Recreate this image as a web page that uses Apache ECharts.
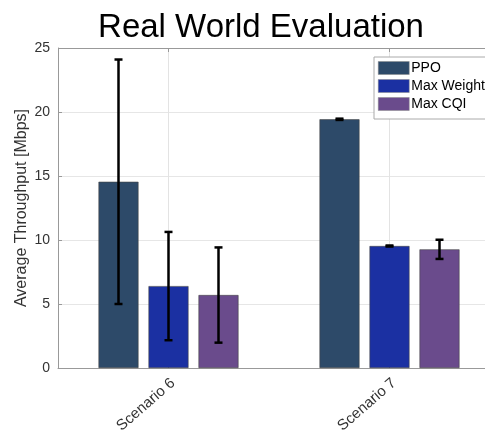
<!DOCTYPE html>
<html><head><meta charset="utf-8">
<script src="https://cdn.jsdelivr.net/npm/echarts@6/dist/echarts.min.js"></script>
<style>html,body{margin:0;padding:0;background:#fff;overflow:hidden}#c{width:485px;height:433px}</style>
</head><body><div id="c"></div>
<script>
const categories = ['Scenario 6', 'Scenario 7'];
const seriesNames = ['PPO', 'Max Weight', 'Max CQI'];
const ppo = [14.55, 19.43];
const maxWeight = [6.4, 9.53];
const maxCqi = [5.7, 9.27];
const ppoErr = [9.55, 0.05];
const maxWeightErr = [4.23, 0.04];
const maxCqiErr = [3.72, 0.75];
const yTicks = [0, 5, 10, 15, 20, 25];

const colors = ['#2d4a69', '#1b30a2', '#6a4b8c'];
const values = [ppo, maxWeight, maxCqi];
const errs = [ppoErr, maxWeightErr, maxCqiErr];
const BAR_W = 40, GAP = 10;
const FONT = 'Liberation Sans, Arial, sans-serif';

const chart = echarts.init(document.getElementById('c'));
const series = [];
// vertical grid lines at category centres, plus top box edge with ticks
series.push({
  name: 'vgrid', type: 'custom', z: 0, silent: true,
  data: categories.map((c, i) => [i]),
  encode: { x: 0 },
  renderItem: function (params, api) {
    const p = api.coord([api.value(0), 0]);
    const top = api.coord([api.value(0), yTicks[yTicks.length - 1]]);
    const cs = params.coordSys;
    const children = [
      { type: 'line', shape: { x1: p[0], y1: top[1], x2: p[0], y2: p[1] },
        style: { stroke: '#e3e3e3', lineWidth: 1 } },
      { type: 'line', shape: { x1: p[0], y1: top[1], x2: p[0], y2: top[1] + 4 },
        style: { stroke: '#999', lineWidth: 1 }, z2: 10 }
    ];
    if (params.dataIndex === 0) {
      children.push({ type: 'line', shape: { x1: cs.x, y1: top[1] + 0.5, x2: cs.x + cs.width, y2: top[1] + 0.5 },
        style: { stroke: '#999', lineWidth: 1 }, z2: 10 });
    }
    return { type: 'group', children: children };
  }
});
values.forEach((vals, si) => {
  series.push({
    name: seriesNames[si], type: 'bar', data: vals, barWidth: BAR_W, barGap: '25%',
    itemStyle: { color: colors[si], borderColor: '#444', borderWidth: 0.6 },
    z: 2
  });
});
values.forEach((vals, si) => {
  series.push({
    name: seriesNames[si] + ' err', type: 'custom', z: 5,
    data: vals.map((v, i) => [i, v - errs[si][i], v + errs[si][i]]),
    encode: { x: 0, y: [1, 2] },
    renderItem: function (params, api) {
      const i = api.value(0);
      const lo = api.coord([i, api.value(1)]);
      const hi = api.coord([i, api.value(2)]);
      const x = lo[0] + (si - 1) * (BAR_W + GAP);
      const cap = 4;
      const st = { stroke: '#000', lineWidth: 2.5 };
      return { type: 'group', children: [
        { type: 'line', shape: { x1: x, y1: hi[1], x2: x, y2: lo[1] }, style: st },
        { type: 'line', shape: { x1: x - cap, y1: hi[1], x2: x + cap, y2: hi[1] }, style: st },
        { type: 'line', shape: { x1: x - cap, y1: lo[1], x2: x + cap, y2: lo[1] }, style: st }
      ]};
    }
  });
});

chart.setOption({
  animation: false,
  backgroundColor: '#fff',
  title: { text: 'Real World Evaluation', left: 256, textAlign: 'center', top: 6,
    textStyle: { fontFamily: FONT, fontSize: 33, fontWeight: 'normal', color: '#000' } },
  legend: {
    orient: 'vertical', left: 374, top: 57, data: seriesNames,
    itemWidth: 31, itemHeight: 13, itemGap: 4, padding: [4, 4, 8, 4],
    backgroundColor: '#fff', borderColor: '#aaa', borderWidth: 1, icon: 'rect',
    itemStyle: { borderWidth: 0.5, borderColor: '#888' },
    textStyle: { fontFamily: FONT, fontSize: 14, color: '#000', padding: [0, 0, 0, -3] }
  },
  grid: { left: 58, top: 48, width: 442, height: 320, outerBoundsMode: 'none', containLabel: false },
  xAxis: [{
    type: 'category', data: categories,
    axisLine: { lineStyle: { color: '#999' } },
    axisTick: { show: true, alignWithLabel: true, inside: true, length: 4, lineStyle: { color: '#999' } },
    axisLabel: { rotate: 41, fontSize: 15, color: '#333', fontFamily: FONT, margin: 17, padding: [0, -6, 0, 0] }
  }],
  yAxis: {
    type: 'value', min: yTicks[0], max: yTicks[yTicks.length - 1], interval: 5,
    name: 'Average Throughput [Mbps]', nameLocation: 'middle', nameGap: 28, nameMoveOverlap: false,
    nameTextStyle: { fontSize: 16, color: '#333', fontFamily: FONT },
    axisLine: { show: true, lineStyle: { color: '#999' } },
    axisTick: { show: true, inside: true, length: 4, lineStyle: { color: '#999' } },
    axisLabel: { fontSize: 14, color: '#333', fontFamily: FONT, margin: 8 },
    splitLine: { show: true, lineStyle: { color: '#e6e6e6' } }
  },
  series: series
});
</script></body></html>
